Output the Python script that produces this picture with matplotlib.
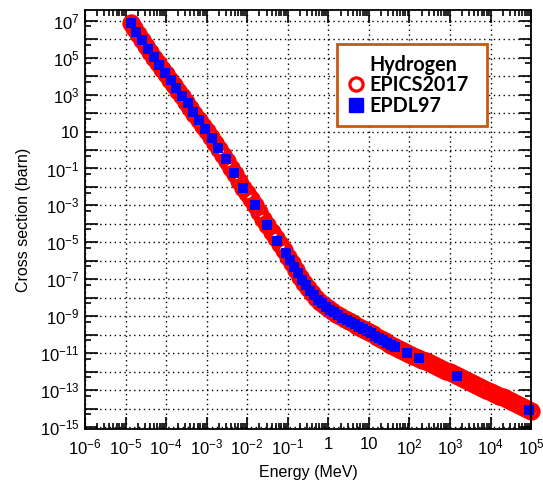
import numpy as np
import matplotlib
matplotlib.use('Agg')
import matplotlib.pyplot as plt
from matplotlib.lines import Line2D
from matplotlib.ticker import FixedLocator, FixedFormatter

# hydrogen photoelectric cross section
# stored as log10(E / MeV) and log10(sigma / barn)
epics_logE = [-4.87, -4.8, -4.7, -4.6, -4.5, -4.4, -4.3, -4.2, -4.1, -4.0,
              -3.9, -3.8, -3.7, -3.6, -3.5, -3.4, -3.3, -3.2, -3.1, -3.0,
              -2.9, -2.8, -2.7, -2.6, -2.5, -2.4, -2.3, -2.2, -2.1, -2.0,
              -1.9, -1.8, -1.7, -1.6, -1.5, -1.4, -1.3, -1.2, -1.1, -1.0,
              -0.9, -0.8, -0.7, -0.6, -0.5, -0.4, -0.3, -0.2, -0.1, 0.0,
              0.1, 0.2, 0.3, 0.4, 0.5, 0.6, 0.7, 0.8, 0.9, 1.0,
              1.1, 1.2, 1.3, 1.4, 1.5, 1.6, 1.7, 1.8, 1.9, 2.0,
              2.1, 2.2, 2.3, 2.4, 2.5, 2.6, 2.7, 2.8, 2.9, 3.0,
              3.1, 3.2, 3.3, 3.4, 3.5, 3.6, 3.7, 3.8, 3.9, 4.0,
              4.1, 4.2, 4.3, 4.4, 4.5, 4.6, 4.7, 4.8, 4.9, 5.0]
epics_logxs = [6.85, 6.62, 6.29, 5.97, 5.64, 5.31, 4.99, 4.69, 4.40, 4.10,
               3.80, 3.51, 3.21, 2.92, 2.62, 2.29, 1.97, 1.64, 1.32, 1.01,
               0.70, 0.38, 0.06, -0.27, -0.60, -0.96, -1.32, -1.68, -2.03, -2.34,
               -2.65, -2.96, -3.33, -3.71, -4.08, -4.42, -4.77, -5.10, -5.42, -5.77,
               -6.14, -6.50, -6.85, -7.18, -7.48, -7.75, -7.99, -8.20, -8.39, -8.56,
               -8.71, -8.85, -9.00, -9.13, -9.26, -9.38, -9.50, -9.62, -9.74, -9.86,
               -9.98, -10.10, -10.23, -10.36, -10.48, -10.60, -10.71, -10.82, -10.93, -11.04,
               -11.14, -11.24, -11.34, -11.44, -11.54, -11.64, -11.74, -11.84, -11.94, -12.04,
               -12.14, -12.24, -12.34, -12.45, -12.55, -12.66, -12.76, -12.87, -12.97, -13.08,
               -13.18, -13.29, -13.39, -13.50, -13.60, -13.71, -13.81, -13.92, -14.02, -14.12]

epdl_logE = [-4.87, -4.73, -4.59, -4.45, -4.31, -4.17, -4.03, -3.89, -3.75, -3.61,
             -3.47, -3.33, -3.19, -3.04, -2.88, -2.72, -2.53, -2.32, -2.10, -1.80,
             -1.51, -1.26, -1.05, -0.95, -0.85, -0.75, -0.65, -0.55, -0.45, -0.35,
             -0.25, -0.15, -0.05, 0.05, 0.15, 0.25, 0.35, 0.45, 0.55, 0.65,
             0.75, 0.85, 0.95, 1.05, 1.15, 1.25, 1.35, 1.45, 1.55, 1.65,
             1.95, 2.23, 3.17, 4.96]
epdl_logxs = [6.85, 6.39, 5.94, 5.48, 5.02, 4.60, 4.19, 3.77, 3.36, 2.95,
              2.52, 2.07, 1.61, 1.13, 0.64, 0.12, -0.49, -1.25, -2.03, -2.96,
              -4.04, -4.91, -5.60, -5.95, -6.32, -6.68, -7.02, -7.33, -7.62, -7.87,
              -8.10, -8.30, -8.48, -8.64, -8.78, -8.93, -9.07, -9.20, -9.32, -9.44,
              -9.56, -9.68, -9.80, -9.92, -10.04, -10.17, -10.30, -10.42, -10.54, -10.66,
              -10.99, -11.27, -12.21, -14.08]

xtick_exp = list(range(-6, 6))
xtick_labels = [r'$\mathregular{10^{%d}}$' % e if e not in (0, 1) else str(10 ** e)
                for e in xtick_exp]
ytick_exp = list(range(-15, 8, 2))
ytick_labels = [r'$\mathregular{10^{%d}}$' % e if e != 1 else '10' for e in ytick_exp]

plt.rcParams['font.family'] = ['Liberation Sans', 'DejaVu Sans']

fig = plt.figure(figsize=(5.43, 4.94), dpi=100)
ax = fig.add_axes([0.1565, 0.1316, 0.8215, 0.8482])

ax.plot(10 ** np.array(epics_logE), 10 ** np.array(epics_logxs), 'o', ls='none',
        mfc='none', mec='#ff0000', ms=10, mew=3.2, clip_on=False)
ax.plot(10 ** np.array(epdl_logE), 10 ** np.array(epdl_logxs), 's', ls='none',
        color='#0000ff', ms=6.8, mew=0, clip_on=False)

ax.set_xscale('log')
ax.set_yscale('log')
ax.set_xlim(1e-6, 1e5)
ax.set_ylim(10 ** -15.1, 10 ** 7.58)

ax.xaxis.set_major_locator(FixedLocator([10.0 ** e for e in xtick_exp]))
ax.xaxis.set_major_formatter(FixedFormatter(xtick_labels))
ax.xaxis.set_minor_locator(FixedLocator([m * 10.0 ** e for e in range(-6, 5) for m in range(2, 10)]))
ax.yaxis.set_major_locator(FixedLocator([10.0 ** e for e in range(-15, 8)]))
ax.yaxis.set_major_formatter(FixedFormatter(
    [ytick_labels[ytick_exp.index(e)] if e in ytick_exp else '' for e in range(-15, 8)]))
ax.yaxis.set_minor_locator(FixedLocator([5 * 10.0 ** e for e in range(-16, 8)]))
ax.yaxis.set_minor_formatter(FixedFormatter([]))
ax.xaxis.set_minor_formatter(FixedFormatter([]))

ax.tick_params(which='both', direction='in', top=True, right=True, width=1.2, labelsize=12)
ax.tick_params(axis='x', which='major', length=9, pad=6)
ax.tick_params(axis='x', which='minor', length=4)
ax.tick_params(axis='y', which='major', length=9, pad=4)
ax.tick_params(axis='y', which='minor', length=4.5)
for s in ax.spines.values():
    s.set_linewidth(1.3)

ax.grid(True, which='major', color='black', ls=(0, (1, 2.5)), lw=1.0)

ax.set_xlabel('Energy (MeV)', fontsize=11.5)
ax.set_ylabel('Cross section (barn)', fontsize=11.5, labelpad=6)
ax.xaxis.set_label_coords(0.5, -0.085)

handles = [Line2D([], [], ls='none'),
           Line2D([], [], ls='none', marker='o', mfc='none', mec='#ff0000', ms=9.5, mew=2.3),
           Line2D([], [], ls='none', marker='s', color='#0000ff', ms=9.5)]
leg = ax.legend(handles, ['Hydrogen', 'EPICS2017', 'EPDL97'], loc='upper left',
                bbox_to_anchor=(0.565, 0.0, 0.336, 0.919), mode='expand',
                fancybox=False, framealpha=1,
                edgecolor='#c55a11', handlelength=0.8, handletextpad=0.3,
                labelspacing=0.02, borderpad=0.55, borderaxespad=0,
                prop={'family': ['Lato', 'DejaVu Sans'], 'weight': 'bold', 'size': 14.2})
leg.get_frame().set_linewidth(2)

fig.savefig('out.png', dpi=100)
